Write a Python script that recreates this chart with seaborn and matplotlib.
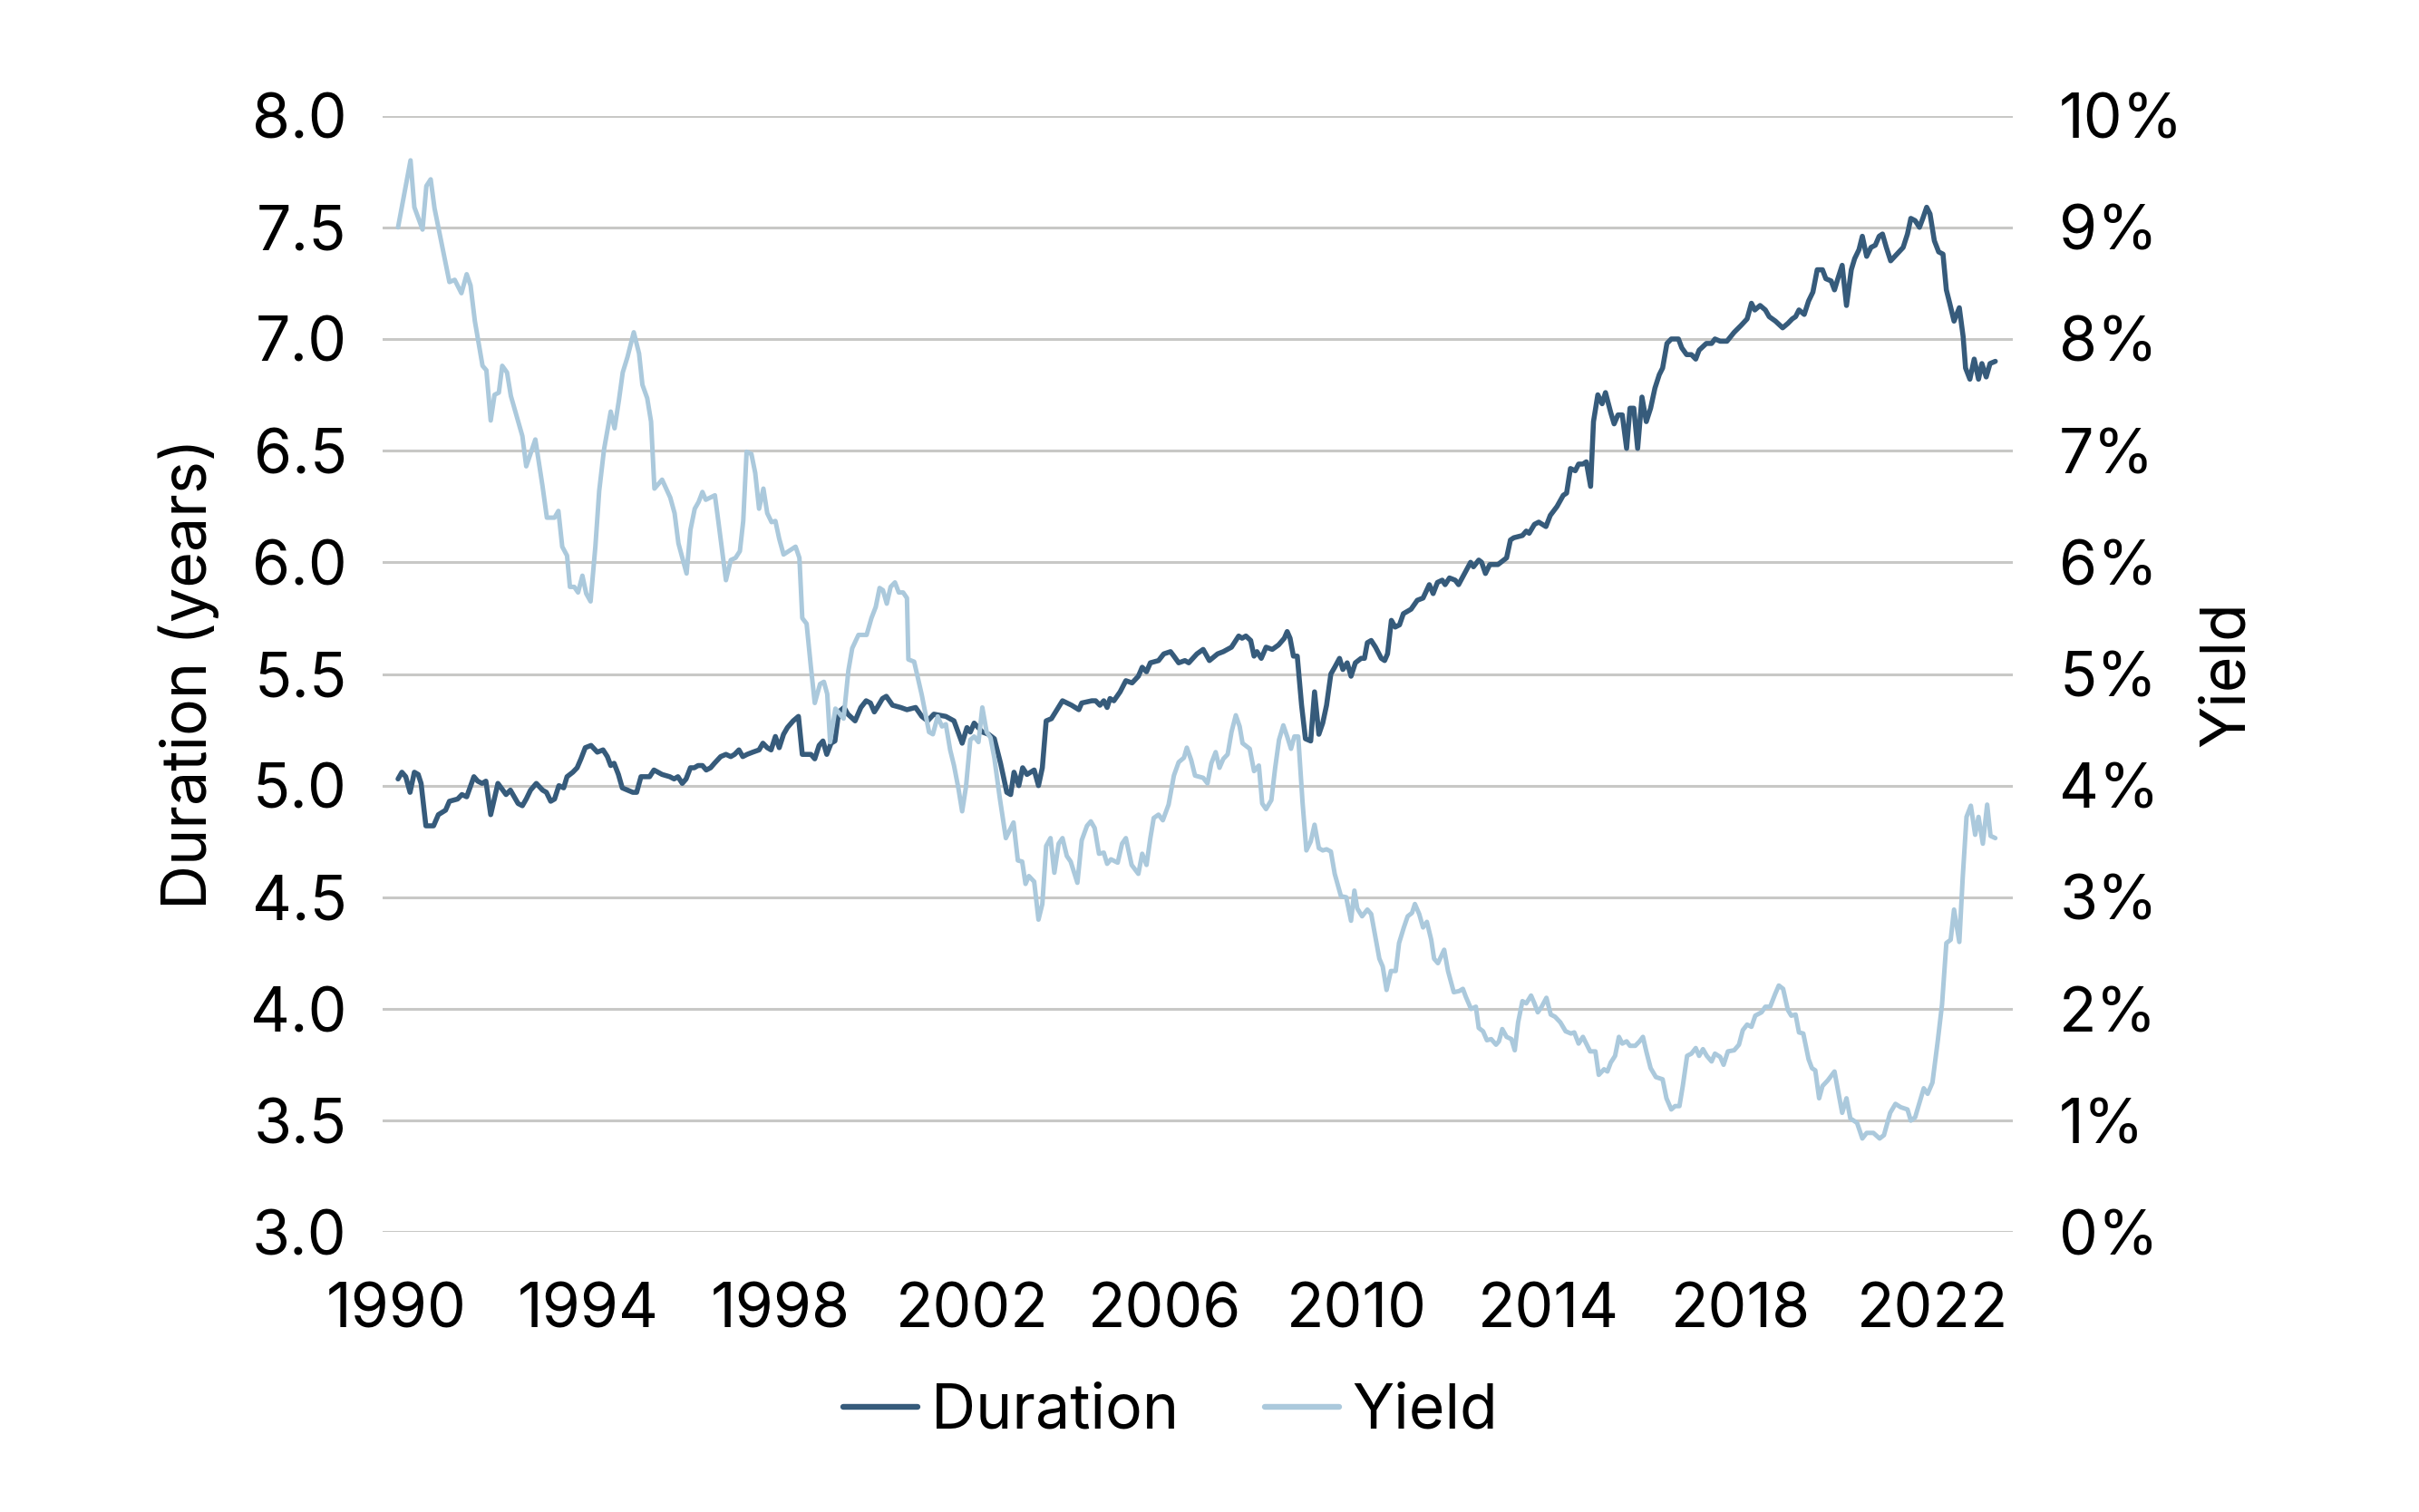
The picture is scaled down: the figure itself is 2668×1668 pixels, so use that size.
import pandas as pd
import matplotlib.pyplot as plt
import seaborn as sns
from matplotlib.ticker import FuncFormatter, MultipleLocator

# duration (years) as (decimal year, value)
duration_1990s = [
    (1990.04, 5.03), (1990.12, 5.06), (1990.20, 5.04), (1990.29, 4.97), (1990.38, 5.06), (1990.46, 5.05),
    (1990.52, 5.01), (1990.62, 4.82), (1990.78, 4.82), (1990.88, 4.87), (1991.03, 4.89), (1991.11, 4.93),
    (1991.28, 4.94), (1991.37, 4.96), (1991.47, 4.95), (1991.62, 5.04), (1991.70, 5.02), (1991.79, 5.01),
    (1991.87, 5.02), (1991.97, 4.87), (1992.12, 5.01), (1992.29, 4.96), (1992.38, 4.98), (1992.54, 4.92),
    (1992.63, 4.91), (1992.71, 4.94), (1992.80, 4.98), (1992.92, 5.01), (1993.05, 4.98), (1993.13, 4.97),
    (1993.22, 4.93), (1993.30, 4.94), (1993.39, 5.00), (1993.49, 4.99), (1993.56, 5.04), (1993.68, 5.06),
    (1993.77, 5.08), (1993.85, 5.12), (1993.94, 5.17), (1994.06, 5.18), (1994.19, 5.15), (1994.31, 5.16),
    (1994.40, 5.13), (1994.47, 5.09), (1994.54, 5.10), (1994.63, 5.05), (1994.71, 4.99), (1994.82, 4.98),
    (1994.93, 4.97), (1995.01, 4.97), (1995.10, 5.04), (1995.28, 5.04), (1995.37, 5.07), (1995.54, 5.05),
    (1995.70, 5.04), (1995.79, 5.03), (1995.87, 5.04), (1995.96, 5.01), (1996.04, 5.03), (1996.13, 5.08),
    (1996.21, 5.08), (1996.29, 5.09), (1996.38, 5.09), (1996.46, 5.07), (1996.55, 5.08), (1996.63, 5.10),
    (1996.76, 5.13), (1996.87, 5.14), (1996.97, 5.13), (1997.05, 5.14), (1997.14, 5.16), (1997.22, 5.13),
    (1997.31, 5.14), (1997.43, 5.15), (1997.56, 5.16), (1997.64, 5.19), (1997.73, 5.17), (1997.81, 5.16),
    (1997.90, 5.22), (1997.98, 5.17), (1998.07, 5.23), (1998.15, 5.26), (1998.27, 5.29), (1998.38, 5.31),
    (1998.46, 5.14), (1998.57, 5.14), (1998.64, 5.14), (1998.72, 5.12), (1998.81, 5.18), (1998.89, 5.20),
    (1998.97, 5.14), (1999.06, 5.19), (1999.14, 5.20), (1999.22, 5.33), (1999.33, 5.35), (1999.41, 5.32),
    (1999.56, 5.29), (1999.68, 5.35), (1999.79, 5.38), (1999.88, 5.37), (1999.96, 5.33), (2000.02, 5.35),
    (2000.13, 5.39), (2000.21, 5.40), (2000.34, 5.36), (2000.51, 5.35), (2000.64, 5.34),
]
duration_2000s = [
    (2000.82, 5.35), (2000.95, 5.31), (2001.07, 5.29), (2001.20, 5.32), (2001.45, 5.31), (2001.62, 5.29),
    (2001.79, 5.19), (2001.89, 5.26), (2001.96, 5.24), (2002.04, 5.28), (2002.21, 5.24), (2002.34, 5.23),
    (2002.46, 5.21), (2002.59, 5.10), (2002.72, 4.97), (2002.80, 4.96), (2002.87, 5.06), (2002.97, 5.00),
    (2003.05, 5.08), (2003.14, 5.05), (2003.29, 5.07), (2003.38, 5.00), (2003.46, 5.08), (2003.54, 5.29),
    (2003.65, 5.30), (2003.88, 5.38), (2004.07, 5.36), (2004.22, 5.34), (2004.28, 5.37), (2004.49, 5.38),
    (2004.57, 5.38), (2004.66, 5.36), (2004.74, 5.38), (2004.81, 5.35), (2004.87, 5.39), (2004.95, 5.38),
    (2005.08, 5.42), (2005.20, 5.47), (2005.33, 5.46), (2005.46, 5.49), (2005.54, 5.53), (2005.63, 5.51),
    (2005.71, 5.55), (2005.88, 5.56), (2005.99, 5.59), (2006.13, 5.60), (2006.20, 5.58), (2006.30, 5.55),
    (2006.43, 5.56), (2006.51, 5.55), (2006.68, 5.59), (2006.81, 5.61), (2006.94, 5.56), (2007.11, 5.59),
    (2007.23, 5.60), (2007.40, 5.62), (2007.49, 5.65), (2007.55, 5.67), (2007.62, 5.66), (2007.70, 5.67),
    (2007.80, 5.65), (2007.87, 5.58), (2007.93, 5.60), (2008.02, 5.57), (2008.12, 5.62), (2008.25, 5.61),
    (2008.38, 5.63), (2008.50, 5.66), (2008.56, 5.69), (2008.62, 5.66), (2008.69, 5.58), (2008.77, 5.58),
    (2008.86, 5.36), (2008.94, 5.21), (2009.05, 5.20), (2009.13, 5.42), (2009.22, 5.23), (2009.30, 5.28),
    (2009.38, 5.36), (2009.47, 5.50), (2009.55, 5.53), (2009.65, 5.57), (2009.72, 5.52), (2009.81, 5.55),
    (2009.89, 5.49), (2009.98, 5.55), (2010.10, 5.57), (2010.17, 5.57), (2010.23, 5.64), (2010.31, 5.65),
    (2010.40, 5.62), (2010.52, 5.57), (2010.59, 5.56), (2010.65, 5.59), (2010.73, 5.74), (2010.81, 5.71),
    (2010.90, 5.72), (2010.98, 5.77), (2011.06, 5.78), (2011.14, 5.79), (2011.27, 5.83), (2011.39, 5.84),
    (2011.52, 5.90), (2011.60, 5.86), (2011.69, 5.91), (2011.79, 5.92), (2011.85, 5.90), (2011.94, 5.93),
    (2012.06, 5.92), (2012.13, 5.90), (2012.23, 5.94), (2012.38, 6.00), (2012.44, 5.98), (2012.55, 6.01),
    (2012.61, 6.00), (2012.69, 5.95), (2012.78, 5.99), (2012.95, 5.99),
]
duration_2010s = [
    (2013.13, 6.02), (2013.21, 6.10), (2013.28, 6.11), (2013.46, 6.12), (2013.54, 6.14), (2013.60, 6.13),
    (2013.71, 6.17), (2013.80, 6.18), (2013.95, 6.16), (2014.04, 6.21), (2014.18, 6.25), (2014.31, 6.30),
    (2014.38, 6.31), (2014.46, 6.42), (2014.56, 6.41), (2014.63, 6.44), (2014.72, 6.44), (2014.79, 6.45),
    (2014.88, 6.34), (2014.94, 6.63), (2015.03, 6.75), (2015.12, 6.71), (2015.19, 6.76), (2015.30, 6.67),
    (2015.37, 6.62), (2015.45, 6.66), (2015.54, 6.66), (2015.63, 6.51), (2015.70, 6.69), (2015.78, 6.69),
    (2015.86, 6.51), (2015.95, 6.74), (2016.04, 6.63), (2016.13, 6.69), (2016.22, 6.78), (2016.31, 6.84),
    (2016.38, 6.87), (2016.47, 6.98), (2016.56, 7.00), (2016.71, 7.00), (2016.78, 6.96), (2016.88, 6.93),
    (2016.98, 6.93), (2017.07, 6.91), (2017.14, 6.95), (2017.29, 6.98), (2017.40, 6.98), (2017.47, 7.00),
    (2017.58, 6.99), (2017.72, 6.99), (2017.87, 7.03), (2018.01, 7.06), (2018.14, 7.09), (2018.23, 7.16),
    (2018.30, 7.13), (2018.41, 7.15), (2018.52, 7.13), (2018.60, 7.10), (2018.73, 7.08), (2018.88, 7.05),
    (2018.99, 7.07), (2019.08, 7.09), (2019.15, 7.10), (2019.22, 7.13), (2019.33, 7.11), (2019.42, 7.17),
    (2019.51, 7.21), (2019.60, 7.31), (2019.71, 7.31), (2019.78, 7.27), (2019.89, 7.26), (2019.96, 7.22),
    (2020.03, 7.27), (2020.12, 7.33), (2020.21, 7.15), (2020.31, 7.31), (2020.38, 7.36), (2020.47, 7.40),
    (2020.54, 7.46), (2020.63, 7.37), (2020.72, 7.41), (2020.81, 7.42), (2020.89, 7.46), (2020.96, 7.47),
    (2021.04, 7.41), (2021.13, 7.35), (2021.26, 7.38), (2021.39, 7.41), (2021.48, 7.47), (2021.55, 7.54),
    (2021.64, 7.53), (2021.73, 7.50), (2021.80, 7.54), (2021.88, 7.59), (2021.95, 7.56), (2022.04, 7.44),
    (2022.13, 7.39), (2022.22, 7.38), (2022.29, 7.22), (2022.36, 7.16), (2022.45, 7.08), (2022.56, 7.14),
    (2022.64, 7.01), (2022.69, 6.87), (2022.78, 6.82), (2022.87, 6.91), (2022.96, 6.82), (2023.03, 6.89),
    (2023.12, 6.83), (2023.20, 6.89), (2023.31, 6.90),
]

# yield (%) as (decimal year, value)
yield_1990s = [
    (1990.04, 9.00), (1990.30, 9.60), (1990.38, 9.18), (1990.55, 8.98), (1990.63, 9.37), (1990.72, 9.43),
    (1990.80, 9.17), (1991.11, 8.51), (1991.22, 8.53), (1991.36, 8.41), (1991.47, 8.58), (1991.55, 8.48),
    (1991.64, 8.16), (1991.80, 7.76), (1991.88, 7.72), (1991.97, 7.27), (1992.05, 7.50), (1992.14, 7.52),
    (1992.21, 7.76), (1992.31, 7.70), (1992.39, 7.49), (1992.63, 7.13), (1992.71, 6.86), (1992.90, 7.10),
    (1993.05, 6.68), (1993.14, 6.40), (1993.30, 6.40), (1993.38, 6.46), (1993.46, 6.14), (1993.56, 6.06),
    (1993.62, 5.78), (1993.71, 5.78), (1993.79, 5.73), (1993.88, 5.88), (1993.96, 5.72), (1994.05, 5.65),
    (1994.15, 6.14), (1994.23, 6.64), (1994.33, 7.01), (1994.47, 7.35), (1994.55, 7.20), (1994.64, 7.45),
    (1994.72, 7.70), (1994.82, 7.84), (1994.95, 8.06), (1995.06, 7.87), (1995.13, 7.59), (1995.23, 7.47),
    (1995.31, 7.26), (1995.38, 6.66), (1995.54, 6.74), (1995.71, 6.58), (1995.80, 6.44), (1995.88, 6.17),
    (1996.05, 5.90), (1996.13, 6.29), (1996.22, 6.48), (1996.30, 6.54), (1996.38, 6.63), (1996.45, 6.56),
    (1996.64, 6.60), (1996.72, 6.34), (1996.87, 5.84), (1996.97, 6.02), (1997.07, 6.04), (1997.16, 6.10),
    (1997.23, 6.37), (1997.30, 6.99), (1997.40, 6.97), (1997.48, 6.80), (1997.56, 6.48), (1997.65, 6.66),
    (1997.73, 6.44), (1997.82, 6.36), (1997.90, 6.37), (1997.98, 6.21), (1998.07, 6.07), (1998.32, 6.14),
    (1998.40, 6.04), (1998.46, 5.50), (1998.55, 5.45), (1998.64, 5.06), (1998.72, 4.74), (1998.83, 4.91),
    (1998.91, 4.93), (1998.98, 4.82), (1999.04, 4.39), (1999.15, 4.69), (1999.32, 4.60), (1999.42, 5.03),
    (1999.50, 5.23), (1999.63, 5.35), (1999.80, 5.35), (1999.90, 5.50), (1999.99, 5.60), (2000.07, 5.77),
    (2000.14, 5.75), (2000.22, 5.63), (2000.30, 5.78), (2000.39, 5.82), (2000.47, 5.73), (2000.56, 5.73),
    (2000.64, 5.68),
]
yield_2000s = [
    (2000.67, 5.13), (2000.79, 5.11), (2000.95, 4.81), (2001.10, 4.48), (2001.18, 4.46), (2001.28, 4.62),
    (2001.37, 4.53), (2001.45, 4.55), (2001.54, 4.32), (2001.62, 4.18), (2001.71, 3.98), (2001.79, 3.77),
    (2001.87, 3.99), (2001.96, 4.41), (2002.04, 4.44), (2002.13, 4.39), (2002.21, 4.70), (2002.30, 4.48),
    (2002.38, 4.43), (2002.46, 4.25), (2002.57, 3.90), (2002.70, 3.53), (2002.86, 3.67), (2002.95, 3.33),
    (2003.04, 3.32), (2003.11, 3.12), (2003.18, 3.19), (2003.29, 3.14), (2003.38, 2.80), (2003.46, 2.94),
    (2003.54, 3.46), (2003.63, 3.53), (2003.71, 3.22), (2003.80, 3.48), (2003.88, 3.53), (2003.97, 3.37),
    (2004.05, 3.32), (2004.19, 3.13), (2004.28, 3.51), (2004.39, 3.64), (2004.47, 3.68), (2004.55, 3.62),
    (2004.64, 3.39), (2004.74, 3.40), (2004.81, 3.30), (2004.89, 3.34), (2005.03, 3.31), (2005.12, 3.48),
    (2005.20, 3.53), (2005.32, 3.29), (2005.46, 3.21), (2005.54, 3.39), (2005.63, 3.29), (2005.71, 3.53),
    (2005.78, 3.71), (2005.88, 3.74), (2005.97, 3.69), (2006.09, 3.83), (2006.20, 4.09), (2006.30, 4.21),
    (2006.41, 4.25), (2006.47, 4.34), (2006.56, 4.23), (2006.64, 4.09), (2006.81, 4.07), (2006.90, 4.02),
    (2006.98, 4.20), (2007.07, 4.30), (2007.15, 4.16), (2007.23, 4.24), (2007.32, 4.28), (2007.40, 4.48),
    (2007.49, 4.63), (2007.57, 4.53), (2007.63, 4.38), (2007.78, 4.33), (2007.87, 4.13), (2007.97, 4.18),
    (2008.04, 3.84), (2008.12, 3.79), (2008.23, 3.87), (2008.31, 4.16), (2008.39, 4.41), (2008.48, 4.54),
    (2008.56, 4.44), (2008.64, 4.33), (2008.71, 4.44), (2008.79, 4.44), (2008.88, 3.85), (2008.96, 3.42),
    (2009.05, 3.50), (2009.13, 3.65), (2009.22, 3.44), (2009.30, 3.42), (2009.38, 3.43), (2009.47, 3.41),
    (2009.55, 3.21), (2009.68, 3.01), (2009.79, 3.00), (2009.89, 2.79), (2009.96, 3.06), (2010.02, 2.90),
    (2010.12, 2.83), (2010.23, 2.89), (2010.31, 2.85), (2010.40, 2.64), (2010.48, 2.45), (2010.55, 2.38),
    (2010.63, 2.17), (2010.72, 2.34), (2010.82, 2.34), (2010.89, 2.59), (2010.99, 2.73), (2011.07, 2.83),
    (2011.16, 2.86), (2011.22, 2.94), (2011.31, 2.85), (2011.39, 2.73), (2011.47, 2.78), (2011.56, 2.62),
    (2011.62, 2.45), (2011.70, 2.41), (2011.83, 2.53), (2011.91, 2.34), (2012.03, 2.15), (2012.14, 2.16),
    (2012.22, 2.18), (2012.28, 2.11), (2012.39, 2.00), (2012.49, 2.02), (2012.55, 1.83), (2012.64, 1.80),
    (2012.72, 1.72), (2012.81, 1.73), (2012.91, 1.68),
]
yield_2010s = [
    (2012.97, 1.71), (2013.04, 1.82), (2013.13, 1.75), (2013.23, 1.73), (2013.30, 1.63), (2013.37, 1.88),
    (2013.46, 2.07), (2013.54, 2.05), (2013.64, 2.12), (2013.71, 2.05), (2013.78, 1.97), (2013.86, 2.02),
    (2013.96, 2.10), (2014.05, 1.95), (2014.14, 1.93), (2014.25, 1.88), (2014.36, 1.80), (2014.47, 1.78),
    (2014.54, 1.79), (2014.63, 1.69), (2014.72, 1.75), (2014.87, 1.62), (2014.98, 1.62), (2015.05, 1.41),
    (2015.16, 1.46), (2015.23, 1.44), (2015.30, 1.52), (2015.39, 1.58), (2015.47, 1.75), (2015.54, 1.69),
    (2015.63, 1.71), (2015.70, 1.67), (2015.81, 1.67), (2015.90, 1.71), (2015.97, 1.75), (2016.04, 1.62),
    (2016.13, 1.47), (2016.24, 1.39), (2016.38, 1.37), (2016.46, 1.20), (2016.56, 1.10), (2016.64, 1.13),
    (2016.73, 1.13), (2016.80, 1.31), (2016.89, 1.58), (2016.98, 1.60), (2017.07, 1.65), (2017.14, 1.58),
    (2017.22, 1.64), (2017.30, 1.58), (2017.40, 1.53), (2017.47, 1.60), (2017.58, 1.57), (2017.65, 1.50),
    (2017.74, 1.62), (2017.87, 1.63), (2017.97, 1.68), (2018.05, 1.81), (2018.14, 1.86), (2018.23, 1.84),
    (2018.31, 1.94), (2018.44, 1.97), (2018.52, 2.02), (2018.62, 2.02), (2018.72, 2.13), (2018.80, 2.21),
    (2018.89, 2.18), (2018.99, 1.99), (2019.06, 1.94), (2019.15, 1.95), (2019.22, 1.79), (2019.31, 1.78),
    (2019.42, 1.55), (2019.49, 1.47), (2019.56, 1.45), (2019.64, 1.20), (2019.71, 1.31), (2019.82, 1.36),
    (2019.96, 1.44), (2020.03, 1.28), (2020.12, 1.07), (2020.21, 1.20), (2020.29, 1.02), (2020.43, 0.98),
    (2020.54, 0.84), (2020.63, 0.89), (2020.77, 0.89), (2020.90, 0.84), (2020.99, 0.87), (2021.12, 1.07),
    (2021.23, 1.15), (2021.34, 1.12), (2021.48, 1.10), (2021.55, 1.00), (2021.64, 1.03), (2021.73, 1.16),
    (2021.82, 1.29), (2021.90, 1.24), (2022.00, 1.34), (2022.11, 1.71), (2022.20, 2.04), (2022.29, 2.59),
    (2022.38, 2.62), (2022.45, 2.89), (2022.56, 2.60), (2022.63, 3.17), (2022.71, 3.72), (2022.80, 3.82),
    (2022.89, 3.56), (2022.96, 3.72), (2023.05, 3.48), (2023.14, 3.83), (2023.21, 3.55), (2023.31, 3.53),
]

year_ticks = list(range(1990, 2023, 4))

DARK = "#365b7b"
LIGHT = "#abc9dc"
GRID = "#c8c8c6"
FS = 24.5

sns.set_theme(style="white")
plt.rcParams['font.family'] = ['Inter', 'DejaVu Sans']
plt.rcParams['text.color'] = 'black'

dur = pd.DataFrame(duration_1990s + duration_2000s + duration_2010s, columns=["year", "duration"])
yld = pd.DataFrame(yield_1990s + yield_2000s + yield_2010s, columns=["year", "yield"])

fig, ax = plt.subplots(figsize=(13.34, 8.34), dpi=200)
fig.subplots_adjust(left=0.158, right=0.832, top=0.9235, bottom=0.185)
ax2 = ax.twinx()

sns.lineplot(data=dur, x="year", y="duration", ax=ax, color=DARK, lw=2.0, legend=False)
sns.lineplot(data=yld, x="year", y="yield", ax=ax2, color=LIGHT, lw=1.8, legend=False)

ax.set_xlim(1989.71, 2023.67)
ax.set_ylim(3.0, 8.0)
ax2.set_ylim(0, 10)
ax.yaxis.set_major_locator(MultipleLocator(0.5))
ax.yaxis.set_major_formatter(FuncFormatter(lambda v, p: f"{v:.1f}"))
ax2.yaxis.set_major_locator(MultipleLocator(1))
ax2.yaxis.set_major_formatter(FuncFormatter(lambda v, p: f"{v:.0f}%"))
ax.set_xticks(year_ticks)

ax.yaxis.grid(True, color=GRID, lw=1.1)
ax.set_axisbelow(True)
for a in (ax, ax2):
    for s in a.spines.values():
        s.set_visible(False)

ax.tick_params(axis="x", length=7, width=1.1, color=GRID, pad=13, labelsize=FS, labelcolor="black")
ax.tick_params(axis="y", length=0, pad=14, labelsize=FS, labelcolor="black")
ax2.tick_params(axis="y", length=0, pad=18.5, labelsize=FS, labelcolor="black")

ax.set_xlabel("")
ax.set_ylabel("Duration (years)", fontsize=FS, color="black")
ax.yaxis.set_label_coords(-0.10, 0.5)
ax2.set_ylabel("Yield", fontsize=FS, color="black")
ax2.yaxis.set_label_coords(1.114, 0.5)

handles = [plt.Line2D([], [], color=DARK, lw=2.3), plt.Line2D([], [], color=LIGHT, lw=2.3)]
fig.legend(handles, ["Duration", "Yield"], loc="center", bbox_to_anchor=(0.484, 0.066), ncol=2,
           frameon=False, fontsize=FS, handlelength=1.2, handletextpad=0.22, columnspacing=1.4)

fig.savefig("out.png", dpi=200, facecolor="white")
